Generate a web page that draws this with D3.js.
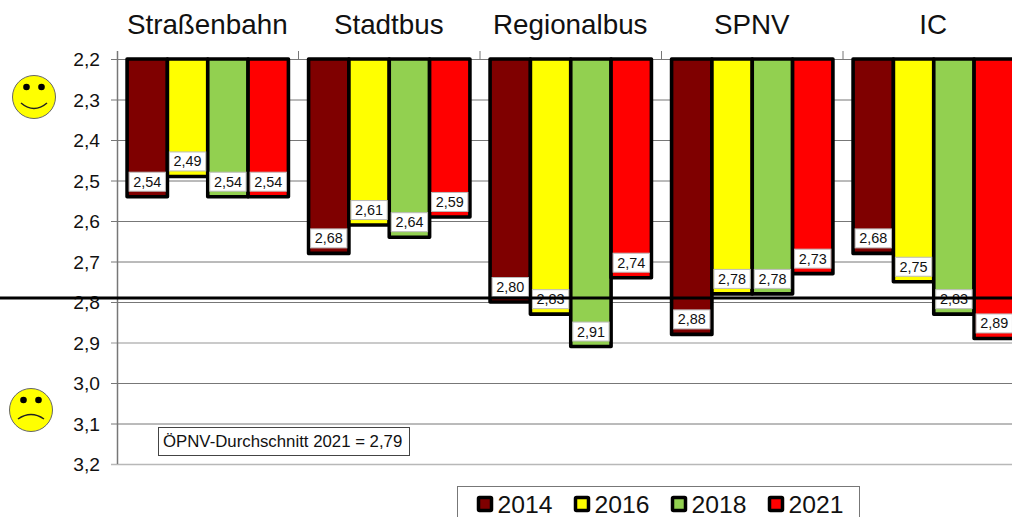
<!DOCTYPE html>
<html><head><meta charset="utf-8">
<script src="https://cdn.jsdelivr.net/npm/d3@7"></script>
<style>html,body{margin:0;padding:0;background:#fff;overflow:hidden}svg{display:block}text{font-family:"Liberation Sans",Arial,sans-serif;fill:#111}</style>
</head><body><script>
const categories = ["Straßenbahn","Stadtbus","Regionalbus","SPNV","IC"];
const years = ["2014","2016","2018","2021"];
const colors = ["#7f0000","#ffff00","#92d050","#ff0000"];
const s2014 = [2.54,2.68,2.80,2.88,2.68];
const s2016 = [2.49,2.61,2.83,2.78,2.75];
const s2018 = [2.54,2.64,2.91,2.78,2.83];
const s2021 = [2.54,2.59,2.74,2.73,2.89];
const series = [s2014,s2016,s2018,s2021];
const yTicks = [2.2,2.3,2.4,2.5,2.6,2.7,2.8,2.9,3.0,3.1,3.2];
const average = 2.79;
const fmt2 = v => v.toFixed(2).replace(".",",");
const fmt1 = v => v.toFixed(1).replace(".",",");

const W=1012,H=517;
const svg=d3.select("body").append("svg").attr("width",W).attr("height",H);
const y=d3.scaleLinear().domain([2.2,3.2]).range([59,464]);
const x0=d3.scaleBand().domain(categories).range([117,1024.5]);
const x1=d3.scaleBand().domain(years).range([0,x0.bandwidth()]).paddingInner(0).paddingOuter(0.25);

// grid
svg.append("g").selectAll("line").data(yTicks).join("line")
  .attr("x1",111).attr("x2",W).attr("y1",d=>y(d)+.5).attr("y2",d=>y(d)+.5)
  .attr("stroke",d=>(d===2.9||d===3.2)?"#b8b8b8":"#777").attr("stroke-width",d=>(d===2.9||d===3.2)?1.5:1);
svg.append("line").attr("x1",117.5).attr("x2",117.5).attr("y1",51).attr("y2",464).attr("stroke","#777").attr("stroke-width",1.5);
svg.append("g").selectAll("line").data(categories.slice(1)).join("line")
  .attr("x1",d=>x0(d)).attr("x2",d=>x0(d)).attr("y1",51).attr("y2",59).attr("stroke","#777");
svg.append("g").selectAll("text").data(yTicks).join("text")
  .attr("x",100).attr("y",d=>y(d)+7).attr("text-anchor","end").attr("font-size",19.2).text(fmt1);
svg.append("g").selectAll("text").data(categories).join("text")
  .attr("x",d=>x0(d)+x0.bandwidth()/2-0.5).attr("y",34).attr("text-anchor","middle").attr("font-size",24).text(d=>d)
  .attr("font-size",27.8);

// bars
const flat=[];
categories.forEach((c,i)=>series.forEach((s,j)=>flat.push({c,yr:years[j],v:s[i],col:colors[j]})));
const gx=d=>x0(d.c)+x1(d.yr);
svg.append("g").selectAll("rect").data(flat).join("rect")
  .attr("x",gx).attr("y",y(2.2)).attr("width",x1.bandwidth()).attr("height",d=>y(d.v)-y(2.2))
  .attr("fill",d=>d.col).attr("stroke","#000").attr("stroke-width",3.6).attr("stroke-linejoin","round");
// labels
svg.append("g").selectAll("rect").data(flat).join("rect")
  .attr("x",d=>gx(d)+2).attr("y",d=>y(d.v)-24.5).attr("width",x1.bandwidth()-4).attr("height",19)
  .attr("fill","#fff").attr("stroke","#bbb").attr("stroke-width",1);
svg.append("g").selectAll("text").data(flat).join("text")
  .attr("x",d=>gx(d)+x1.bandwidth()/2).attr("y",d=>y(d.v)-10).attr("text-anchor","middle").attr("font-size",14.4).text(d=>fmt2(d.v));
// average
svg.append("line").attr("x1",0).attr("x2",W).attr("y1",y(average)).attr("y2",y(average)).attr("stroke","#000").attr("stroke-width",3);

// note
svg.append("rect").attr("x",158.5).attr("y",427.5).attr("width",251).attr("height",28).attr("fill","#fff").attr("stroke","#444");
svg.append("text").attr("x",163).attr("y",447).attr("font-size",16.8).text("ÖPNV-Durchschnitt 2021 = "+fmt2(average));

// legend
svg.append("rect").attr("x",457.5).attr("y",486.5).attr("width",402).attr("height",40).attr("fill","#fff").attr("stroke","#777");
const lx=d3.scalePoint().domain(years).range([478.5,769.5]);
const lg=svg.append("g").selectAll("g").data(years).join("g").attr("transform",d=>`translate(${lx(d)},497.5)`);
lg.append("rect").attr("width",13).attr("height",13).attr("rx",1).attr("fill",(d,i)=>colors[i]).attr("stroke","#000").attr("stroke-width",3.5);
lg.append("text").attr("x",19).attr("y",15.5).attr("font-size",24.7).text(d=>d);

// faces
function face(cx,cy,happy){
  const g=svg.append("g").attr("transform",`translate(${cx},${cy})`);
  g.append("circle").attr("r",21.5).attr("fill","#ffff00").attr("stroke","#666").attr("stroke-width",1);
  g.selectAll("circle.e").data([-7.5,7.5]).join("circle").attr("class","e").attr("cx",d=>d).attr("cy",-10).attr("r",3.3).attr("fill","#000");
  g.append("path").attr("fill","none").attr("stroke","#222").attr("stroke-width",1.5)
   .attr("d",happy?"M-13,6 Q0,17 13,6":"M-13,9 Q0,0 13,9");
}
face(34,97,true);
face(31,410,false);
</script></body></html>
